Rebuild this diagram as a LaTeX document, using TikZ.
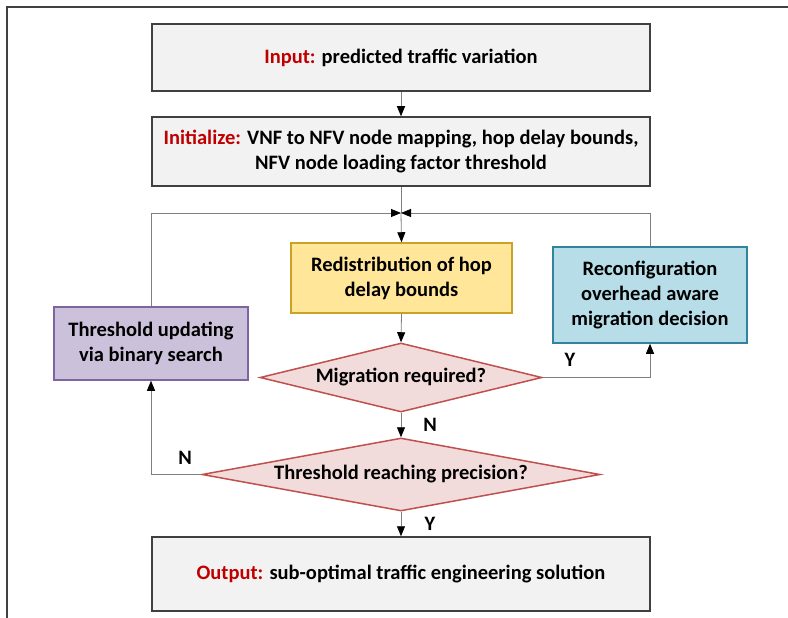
\documentclass[tikz,border=0pt]{standalone}
\usepackage{fontspec}
\setmainfont{Carlito}
\usetikzlibrary{arrows.meta,shapes.geometric}
\definecolor{boxgray}{HTML}{404040}
\definecolor{fillgray}{HTML}{F2F2F2}
\definecolor{lnk}{HTML}{7F7F7F}
\definecolor{ylwfill}{HTML}{FFE699}
\definecolor{ylwdraw}{HTML}{C9A227}
\definecolor{bluefill}{HTML}{B7DEE8}
\definecolor{bluedraw}{HTML}{31849B}
\definecolor{purpfill}{HTML}{CCC1DA}
\definecolor{purpdraw}{HTML}{8064A2}
\definecolor{pinkfill}{HTML}{F2DCDB}
\definecolor{pinkdraw}{HTML}{C0504D}
\definecolor{redlbl}{HTML}{C00000}
\begin{document}
\begin{tikzpicture}[x=1pt,y=-1pt,
  txt/.style={font=\bfseries\fontsize{20.5}{25}\selectfont},
  box/.style={txt,draw=boxgray,line width=1.5pt,fill=fillgray,align=center,inner sep=0pt},
  cbox/.style={txt,line width=1.5pt,align=center,inner sep=0pt},
  dia/.style={txt,diamond,draw=pinkdraw,fill=pinkfill,line width=1.5pt,inner sep=0pt},
  lnkline/.style={draw=lnk,line width=0.8pt},
  arr/.style={lnkline,-{Triangle[length=10pt,width=8pt,color=black,fill=black]}},
  lbl/.style={txt,inner sep=0pt}
]
\useasboundingbox (0,0) rectangle (788,618);
\draw[draw=boxgray,line width=1.2pt] (7,620) -- (7,7) -- (790,7);

\node[box,minimum width=498pt,minimum height=67pt] (in) at (401,57.5)
  {\textcolor{redlbl}{Input:} predicted traffic variation};
\node[box,minimum width=498pt,minimum height=69pt] (init) at (401,151.5)
  {\textcolor{redlbl}{Initialize:} VNF to NFV node mapping, hop delay bounds,\\NFV node loading factor threshold};
\coordinate (J) at (401,213);
\node[cbox,draw=ylwdraw,fill=ylwfill,minimum width=221pt,minimum height=70pt] (redis) at (401.5,278)
  {Redistribution of hop\\delay bounds};
\node[cbox,draw=bluedraw,fill=bluefill,minimum width=194pt,minimum height=96pt] (reconf) at (650,295)
  {Reconfiguration\\overhead aware\\migration decision};
\node[cbox,draw=purpdraw,fill=purpfill,minimum width=194pt,minimum height=73pt] (thr) at (151,343.5)
  {Threshold updating\\via binary search};
\node[dia,aspect=4.09,minimum width=282pt,minimum height=69pt] (mig) at (401,377.5) {Migration required?};
\node[dia,aspect=5.45,minimum width=398pt,minimum height=73pt] (prec) at (401,474.5) {Threshold reaching precision?};
\node[box,minimum width=498pt,minimum height=74pt] (out) at (401,574)
  {\textcolor{redlbl}{Output:} sub-optimal traffic engineering solution};

\node[lbl] (ly1) at (570,360) {Y};
\node[lbl] (ln1) at (430,425) {N};
\node[lbl] (ln2) at (185,458) {N};
\node[lbl] (ly2) at (430,524) {Y};

\draw[arr] (in.south) -- (init.north);
\draw[lnkline] (init.south) -- (J);
\draw[arr] (J) -- (redis.north);
\draw[arr] (thr.north) |- (J);
\draw[arr] (reconf.north) |- (J);
\draw[arr] (redis.south) -- (mig.north);
\draw[arr] (mig.east) -| (reconf.south);
\draw[arr] (mig.south) -- (prec.north);
\draw[arr] (prec.west) -| (thr.south);
\draw[arr] (prec.south) -- (out.north);
\end{tikzpicture}
\end{document}
